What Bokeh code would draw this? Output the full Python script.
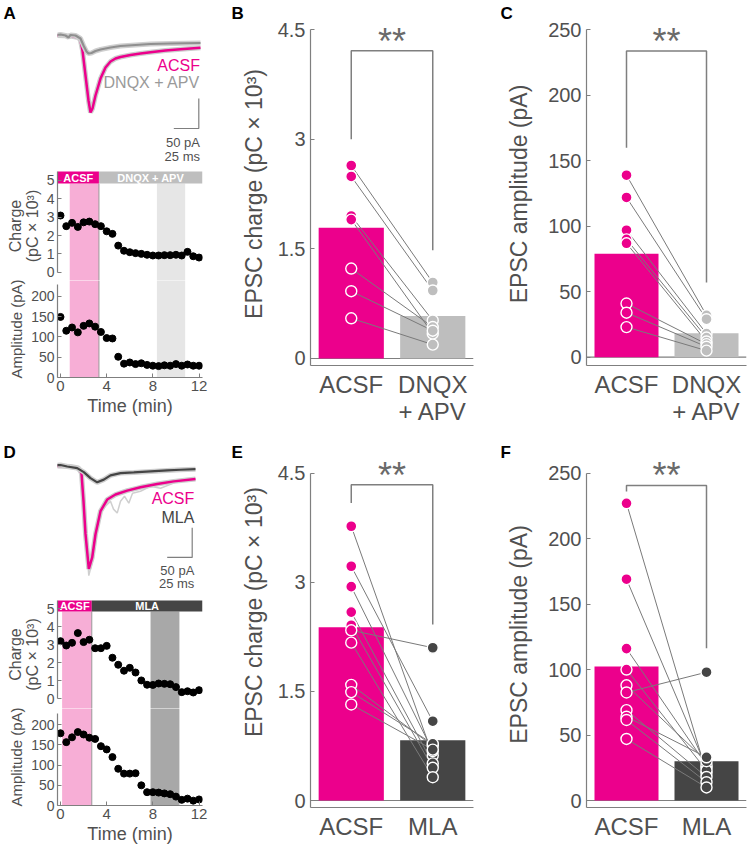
from bokeh.plotting import figure
from bokeh.layouts import row, column
from bokeh.models import Range1d, FixedTicker, Span, NumeralTickFormatter
from bokeh.embed import file_html
from bokeh.resources import INLINE
from bokeh.core.properties import value

FONT = "Liberation Sans"
PINK = "#EC008C"
PINK_SHADE = "#F7AED6"
LGRAY = "#BEBEBE"
DGRAY = "#454545"
AXC = "#7F7F7F"
TXTC = "#505050"

# ---------------- data ----------------
time_min = [0, 0.5, 1, 1.5, 2, 2.5, 3, 3.5, 4, 4.5, 5, 5.5, 6, 6.5, 7, 7.5, 8, 8.5, 9, 9.5, 10, 10.5, 11, 11.5, 12]
a_charge = [3.09, 2.51, 2.69, 2.47, 2.72, 2.76, 2.62, 2.51, 2.23, 2.09, 1.45, 1.17, 1.09, 1.04, 1.00, 0.95,
            0.91, 0.91, 0.93, 0.93, 0.95, 0.91, 1.11, 0.87, 0.80]
a_amp = [149, 115, 123, 111, 127, 133, 125, 112, 97, 96, 51, 34, 37, 33, 35, 31, 29, 28, 30, 29, 33, 29, 32, 29, 29]
d_charge = [3.20, 2.96, 3.11, 3.65, 3.15, 3.28, 2.81, 2.81, 2.94, 2.28, 1.89, 1.56, 1.72, 1.46, 1.02, 0.78,
            0.77, 0.85, 0.83, 0.81, 0.65, 0.37, 0.42, 0.35, 0.48]
d_amp = [179, 157, 169, 182, 176, 168, 165, 147, 139, 120, 91, 79, 79, 80, 50, 33, 33, 32, 30, 28, 22, 14, 17, 12, 15]

a_periods = ["ACSF", "DNQX + APV"]
a_period_start = [-0.26, 3.33]
a_period_end = [3.33, 12.3]
a_shade_start = [0.8, 8.35]
a_shade_end = [3.33, 10.8]
d_periods = ["ACSF", "MLA"]
d_period_start = [-0.26, 2.71]
d_period_end = [2.71, 12.3]
d_shade_start = [0.14, 7.8]
d_shade_end = [2.71, 10.3]

# example traces (ms, pA)
a_acsf_t = [0, 17, 25, 27, 29, 32, 35, 37, 39, 42, 47, 52, 57, 62, 67, 77, 87, 97, 112, 127, 147]
a_acsf_i = [0, -0.8, -3.3, -8.3, -25, -66.7, -108.3, -128.3, -121.7, -100, -71.7, -53.3, -43.3, -38.3, -35.8,
            -32.5, -30, -27.8, -25, -22.8, -20.5]
a_dnqx_t = [0, 7, 12, 15, 17, 22, 27, 30, 33, 35, 38, 42, 47, 57, 67, 82, 97, 117, 147]
a_dnqx_i = [0, 1.7, 0, -3.3, 0.8, 0, -5, -16.7, -26.7, -30, -29.2, -25.8, -23.3, -20, -17.5, -15.8, -14.2, -13.3, -12.5]
d_mla_t = [0, 11.7, 18.4, 28.4, 35, 41.7, 48.4, 55, 61.7, 71.7, 85, 101.7, 118.4, 131.7, 146.7]
d_mla_i = [0, 1.3, -1.2, -4, -10.7, -20.7, -27.8, -23.3, -16.2, -12.3, -11.2, -9.5, -7.8, -6.7, -5.7]
d_acsf_t = [0, 21.7, 29.7, 32.7, 34.7, 36.7, 40, 43.4, 46.7, 51.7, 58.4, 66.7, 78.4, 91.7, 108.4, 125, 146.7]
d_acsf_i = [0, -1.2, -3.7, -12.8, -59.5, -114.5, -173.3, -154, -115, -76.2, -56.7, -48.3, -41.7, -36.2, -30.7,
            -26.2, -22.3]
d_single_t = [0, 31.7, 34.7, 37.7, 40, 43.7, 47.7, 51.7, 56.7, 61.7, 64.7, 68.4, 71.7, 75.7, 80, 83.7, 91.7,
              101.7, 111.7, 126.7, 146.7]
d_single_i = [3.8, -4.5, -67.8, -134.5, -184.5, -159.5, -109.5, -79.5, -67.8, -59.5, -72.8, -79.5, -59.5, -51.2,
              -62.8, -46.2, -42.8, -34.5, -37.8, -27.8, -22.8]

# paired cell data
b_acsf = [2.64, 2.49, 1.95, 1.90, 1.23, 0.92, 0.55]
b_dnqx = [1.04, 0.93, 0.52, 0.34, 0.43, 0.38, 0.19]
b_means = [1.79, 0.58]
c_acsf = [139, 122, 97, 90, 87, 41, 34, 23]
c_dnqx = [32, 29, 18, 15, 12, 10, 8, 5]
c_means = [79, 18.3]
e_acsf = [3.77, 3.22, 2.94, 2.59, 2.41, 2.34, 2.17, 1.59, 1.49, 1.32]
e_mla = [0.62, 1.09, 0.68, 0.51, 0.45, 2.10, 0.32, 0.75, 0.78, 0.70]
e_means = [2.38, 0.83]
f_acsf = [227, 169, 116, 100, 88, 82.5, 69, 64, 61.5, 47]
f_mla = [21, 25, 27, 23, 30, 98, 18, 33, 14, 10]
f_means = [102.3, 29.9]
charge_ticks = [0, 1.5, 3, 4.5]
amp_ticks = [0, 50, 100, 150, 200, 250]


def make_fig(w, h, xr, yr, bl=0, br=0, bt=0, bb=0, xloc=None, yloc=None, letter=None, letter_offset=0):
    kw = {}
    if letter is not None:
        kw["title"] = letter
    p = figure(width=w, height=h, x_range=Range1d(*xr), y_range=Range1d(*yr),
               output_backend="svg", toolbar_location=None, tools="",
               x_axis_location=xloc, y_axis_location=yloc,
               min_border_left=bl, min_border_right=br, min_border_top=bt, min_border_bottom=bb, **kw)
    p.outline_line_color = None
    p.grid.grid_line_color = None
    p.background_fill_color = "white"
    p.border_fill_color = "white"
    if letter is not None:
        p.title.align = "left"
        p.title.offset = letter_offset
        p.title.standoff = 0
        p.title.text_font = FONT
        p.title.text_font_size = "17px"
        p.title.text_font_style = "bold"
        p.title.text_color = "black"
    return p


def style_axis(ax, tick_size, label_size, standoff=5, label_standoff=5):
    ax.axis_line_color = AXC
    ax.axis_line_width = 1.2
    ax.major_tick_line_color = AXC
    ax.minor_tick_line_color = None
    ax.major_tick_in = 4
    ax.major_tick_out = 0
    ax.major_label_text_font = FONT
    ax.major_label_text_font_size = tick_size
    ax.major_label_text_color = TXTC
    ax.major_label_standoff = standoff
    ax.axis_label_text_font = FONT
    ax.axis_label_text_font_size = label_size
    ax.axis_label_text_color = TXTC
    ax.axis_label_text_font_style = "normal"
    ax.axis_label_standoff = label_standoff


def text(p, x, y, t, color, size, align="right", style="normal"):
    p.text(x=x, y=y, text=t, text_color=color, text_font=value(FONT), text_font_size=size,
           text_align=align, text_baseline="middle", text_font_style=style)


# ---------------- trace panels ----------------
def trace_panel(g, cond_t, cond_i, ctrl_t, ctrl_i, cond_color, label_color, cond_label, letter,
                single=None, scale=None):
    p = make_fig(g["w"], g["h"], g["xr"], g["yr"], bl=g["bl"], br=g["br"], bt=g["bt"], bb=g["bb"],
                 letter=letter, letter_offset=-54)
    if single is not None:
        p.line(single[0], single[1], line_color="#CFCFCF", line_width=1.5)
    p.line(ctrl_t, ctrl_i, line_color="#CDCDCD", line_width=5)
    p.line(ctrl_t, ctrl_i, line_color=PINK, line_width=2.5)
    p.line(cond_t, cond_i, line_color="#CFCFCF", line_width=5)
    p.line(cond_t, cond_i, line_color=cond_color, line_width=2.2)
    sx, sy0, sy1, sxl, tx, ys = scale
    p.line([sxl, sx, sx], [sy1, sy1, sy0], line_color=AXC, line_width=1.2)
    text(p, [tx], [ys[0]], ["ACSF"], PINK, "16px")
    text(p, [tx], [ys[1]], [cond_label], label_color, "16px")
    text(p, [tx], [ys[2]], ["50 pA"], TXTC, "13px")
    text(p, [tx], [ys[3]], ["25 ms"], TXTC, "13px")
    return p


gA = dict(w=230, h=166, bl=57, br=28, bt=22, bb=0, xr=(4, 149), yr=(-218.33, 21.67))
pA_tr = trace_panel(gA, a_dnqx_t, a_dnqx_i, a_acsf_t, a_acsf_i, "#8F8F8F", "#9A9A9A", "DNQX + APV", "A",
                    scale=(145.3, -105, -155, 120.3, 146.5, [-50, -78.3, -178, -201.7]))
gD = dict(w=230, h=152, bl=57, br=28, bt=20, bb=0, xr=(8.7, 153.7), yr=(-212.83, 7.17))
pD_tr = trace_panel(gD, d_mla_t, d_mla_i, d_acsf_t, d_acsf_i, DGRAY, DGRAY, "MLA", "D",
                    single=(d_single_t, d_single_i),
                    scale=(143.4, -104, -154, 118.4, 145.5, [-54.5, -87.3, -176, -197.8]))


# ---------------- time course panels ----------------
def timecourse(w, h_c, h_a, bl, br, bt_c, bb_a, xr, yr_c, yr_a, bar_bottom, charge, amp,
               periods, p_start, p_end, p_colors, s_start, s_end, s_colors, amp_bound):
    pc = make_fig(w, h_c, xr, yr_c, bl=bl, br=br, bt=bt_c, bb=0, xloc=None, yloc="left")
    pc.quad(left=s_start, right=s_end, bottom=yr_c[0] - 1, top=bar_bottom, color=s_colors, line_color=None)
    pc.segment(x0=[p_end[0]], y0=[yr_c[0] - 1], x1=[p_end[0]], y1=[bar_bottom], line_color="#9A9A9A", line_width=1)
    pc.quad(left=p_start, right=p_end, bottom=bar_bottom, top=yr_c[1] + 1, color=p_colors, line_color=None)
    mids = [(a + b) / 2 for a, b in zip(p_start, p_end)]
    text(pc, mids, [(bar_bottom + yr_c[1]) / 2] * len(mids), periods, "white", "11px", align="center", style="bold")
    pc.scatter(time_min, charge, size=7, color="black")
    style_axis(pc.yaxis[0], "14px", "16px", standoff=3, label_standoff=3)
    pc.yaxis.ticker = FixedTicker(ticks=[0, 1, 2, 3, 4, 5])
    pc.yaxis.bounds = (0, yr_c[1])
    pc.yaxis.axis_label = "Charge\n(pC × 10³)"
    pc.yaxis.axis_label_text_line_height = 1.0

    pa = make_fig(w, h_a, xr, yr_a, bl=bl, br=br, bt=0, bb=bb_a, xloc="below", yloc="left")
    pa.quad(left=s_start, right=s_end, bottom=yr_a[0] - 20, top=yr_a[1] + 20, color=s_colors, line_color=None)
    pa.segment(x0=[p_end[0]], y0=[yr_a[0]], x1=[p_end[0]], y1=[yr_a[1] + 20], line_color="#9A9A9A", line_width=1)
    pa.scatter(time_min, amp, size=7, color="black")
    style_axis(pa.yaxis[0], "14px", "15px", standoff=3, label_standoff=3)
    pa.yaxis.ticker = FixedTicker(ticks=[0, 50, 100, 150, 200])
    pa.yaxis.bounds = (0, amp_bound)
    pa.yaxis.axis_label = "Amplitude (pA)"
    style_axis(pa.xaxis[0], "15px", "18px", standoff=3, label_standoff=2)
    pa.xaxis.ticker = FixedTicker(ticks=[0, 4, 8, 12])
    pa.xaxis.axis_label = "Time (min)"
    return pc, pa


pA_c, pA_a = timecourse(230, 114, 160, 57, 28, 5, 63, (-0.26, 12.3), (-0.452, 5.49), (0, 238.6), 4.83,
                        a_charge, a_amp, a_periods, a_period_start, a_period_end, [PINK, LGRAY],
                        a_shade_start, a_shade_end, [PINK_SHADE, "#E6E6E6"], 228)
pD_c, pD_a = timecourse(230, 116, 138, 57, 28, 8, 41, (-0.26, 12.3), (-0.539, 5.46), (0, 240.4), 4.85,
                        d_charge, d_amp, d_periods, d_period_start, d_period_end, [PINK, DGRAY],
                        d_shade_start, d_shade_end, [PINK_SHADE, "#A8A8A8"], 228)


# ---------------- bar panels ----------------
def bar_panel(g, ybound, yticks, ylabel, cat2, a_vals, b_vals, means, b_color, sig, letter,
              letter_offset, label_standoff, x_standoff):
    p = make_fig(g["w"], g["h"], g["xr"], g["yr"], bl=g["bl"], br=g["br"], bt=g["bt"], bb=g["bb"],
                 xloc="below", yloc="left", letter=letter, letter_offset=letter_offset)
    p.add_layout(Span(location=0, dimension="width", line_color=AXC, line_width=1.2, level="underlay"))
    p.vbar(x=[1, 2], top=means, width=0.8, color=[PINK, b_color], line_color=None)
    n = len(a_vals)
    p.segment(x0=[1] * n, y0=a_vals, x1=[2] * n, y1=b_vals, line_color="#7A7A7A", line_width=1)
    p.scatter([1] * n, a_vals, size=11, fill_color=PINK, line_color="white", line_width=1.4)
    p.scatter([2] * len(b_vals), b_vals, size=11, fill_color=b_color, line_color="white", line_width=1.4)
    p.line([1, 1, 2, 2], [sig[0], sig[1], sig[1], sig[2]], line_color=AXC, line_width=1.5)
    p.text(x=[1.5], y=[sig[3]], text=["**"], text_color="#6A6A6A", text_font=value(FONT), text_font_size="36px",
           text_align="center", text_baseline="alphabetic")
    style_axis(p.yaxis[0], "20px", "23px", standoff=5, label_standoff=label_standoff)
    p.yaxis.ticker = FixedTicker(ticks=yticks)
    p.yaxis.formatter = NumeralTickFormatter(format="0.[0]")
    p.yaxis.bounds = (g["yr"][0], ybound)
    p.yaxis.axis_label = ylabel
    style_axis(p.xaxis[0], "24px", "22px", standoff=x_standoff)
    p.xaxis.major_tick_line_color = None
    p.xaxis.ticker = FixedTicker(ticks=[1, 2])
    p.xaxis.major_label_overrides = {1: "ACSF", 2: cat2}
    p.xaxis.major_label_text_line_height = 1.0
    return p


gB = dict(w=270, h=440, bl=80, br=27, bt=22, bb=75, xr=(0.5, 2.5), yr=(-0.096, 4.596))
gC = dict(w=250, h=440, bl=86, br=4, bt=22, bb=75, xr=(0.5, 2.5), yr=(-6.34, 255.6))
gE = dict(w=270, h=406, bl=80, br=27, bt=20, bb=39, xr=(0.5, 2.5), yr=(-0.096, 4.66))
gF = dict(w=250, h=406, bl=86, br=4, bt=20, bb=39, xr=(0.5, 2.5), yr=(-5.33, 258.9))

NBSP = "\u00a0"
pB = bar_panel(gB, 4.5, charge_ticks, "EPSC charge (pC × 10³)", "DNQX\n+ APV", b_acsf, b_dnqx, b_means,
               LGRAY, (3.0, 4.21, 1.48, 4.34), "B", -79, 8, 5)
pC = bar_panel(gC, 250, amp_ticks, "EPSC amplitude (pA)", "DNQX\n+ APV", c_acsf, c_dnqx, c_means,
               LGRAY, (160, 233.8, 57, 241.1), "C", -86, 13, 5)
pE = bar_panel(gE, 4.5, charge_ticks, NBSP * 7 + "EPSC charge (pC × 10³)", "MLA", e_acsf, e_mla, e_means,
               DGRAY, (4.09, 4.34, 2.42, 4.47), "E", -79, 8, 5)
pF = bar_panel(gF, 250, amp_ticks, "EPSC amplitude (pA)", "MLA", f_acsf, f_mla, f_means,
               DGRAY, (236, 240.6, 116.3, 248.2), "F", -86, 13, 5)

colA = column(pA_tr, pA_c, pA_a, spacing=0)
colD = column(pD_tr, pD_c, pD_a, spacing=0)
layout = column(row(colA, pB, pC, spacing=0), row(colD, pE, pF, spacing=0), spacing=0)

open("out.html", "w").write(file_html(layout, INLINE))
